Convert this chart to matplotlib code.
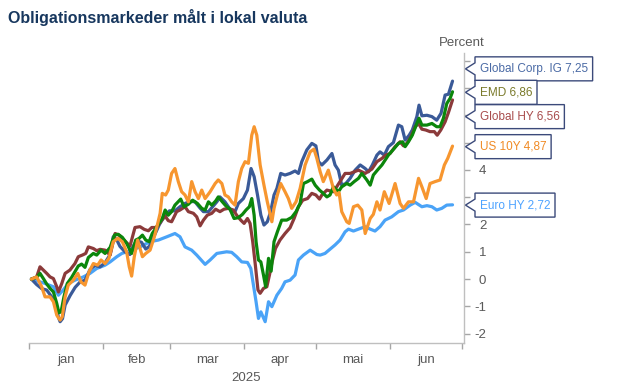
import matplotlib
matplotlib.use('Agg')
import matplotlib.pyplot as plt
import matplotlib.dates as mdates
from matplotlib.patches import Polygon
import numpy as np
from datetime import datetime

plt.rcParams['font.family'] = ['Liberation Sans', 'DejaVu Sans']
plt.rcParams['axes.unicode_minus'] = False

# ---------------- data ----------------
title = "Obligationsmarkeder målt i lokal valuta"
unit_label = "Percent"
year_label = "2025"
month_labels = ["jan", "feb", "mar", "apr", "mai", "jun"]
y_ticks = [-2, -1, 0, 1, 2, 3, 4, 5, 6, 7, 8]
y_tick_labels = ["-2", "-1", "0", "1", "2", "3", "4", "", "", "", ""]

# days after 1 Jan 2025, cumulative return in percent
ig_days = [1.0, 3.2, 5.3, 7.4, 9.5, 10.9, 12.3, 13.0, 14.0, 15.1, 17.2, 19.3, 21.4, 23.4, 25.5, 27.6, 29.7, 31.8, 33.9, 35.2, 36.6, 38.0, 40.1, 42.2, 43.5, 45.0, 47.0, 48.8, 50.3, 52.4, 54.5, 56.6, 58.7, 61.0, 63.1, 65.2, 67.3, 69.4, 71.5, 72.9, 75.0, 78.5, 79.8, 81.9, 84.7, 86.1, 87.5, 89.6, 91.3, 92.8, 94.1, 95.5, 96.9, 98.2, 99.6, 101.0, 102.4, 103.6, 105.2, 107.0, 109.1, 111.2, 112.6, 114.0, 116.1, 118.2, 119.9, 121.0, 122.4, 124.5, 126.6, 127.9, 129.3, 130.7, 132.4, 134.2, 136.3, 138.4, 140.5, 141.9, 143.5, 145.4, 146.7, 148.5, 150.2, 152.3, 154.4, 155.8, 157.2, 158.9, 160.2, 162.1, 163.0, 164.2, 166.3, 168.4, 170.4, 172.2, 173.9, 175.3, 177.0]
ig_vals = [0.0, -0.2, -0.35, -0.4, -0.65, -0.8, -1.4, -1.56, -1.45, -0.95, -0.6, -0.3, -0.1, -0.04, 0.35, 0.5, 0.45, 0.6, 0.9, 1.55, 1.45, 1.2, 1.0, 0.9, 1.2, 1.4, 1.35, 1.1, 1.2, 1.6, 2.0, 2.3, 2.5, 2.5, 2.65, 2.77, 2.85, 2.83, 2.6, 2.47, 2.47, 2.83, 3.01, 2.83, 2.47, 2.47, 2.77, 2.95, 3.26, 4.05, 3.75, 3.08, 2.34, 1.98, 2.1, 2.47, 3.08, 3.32, 3.87, 3.81, 3.87, 3.96, 3.87, 4.3, 4.73, 4.97, 4.88, 4.3, 4.18, 4.36, 4.6, 4.18, 3.99, 3.44, 3.5, 3.69, 3.99, 4.18, 4.05, 3.93, 4.18, 4.54, 4.66, 4.54, 4.85, 5.0, 5.64, 5.58, 5.09, 5.27, 5.46, 5.95, 6.37, 5.98, 6.0, 5.95, 5.82, 6.07, 6.74, 6.77, 7.25]

emd_days = [1.0, 3.2, 4.6, 6.0, 7.4, 8.8, 10.2, 11.6, 12.5, 13.4, 14.6, 16.0, 17.8, 19.2, 20.6, 22.0, 23.4, 24.8, 26.9, 28.3, 30.1, 31.8, 33.9, 35.7, 37.3, 39.0, 40.8, 42.9, 44.6, 46.0, 47.4, 48.8, 50.2, 51.5, 53.0, 54.3, 55.7, 56.9, 58.2, 59.6, 61.0, 63.4, 64.8, 66.6, 68.4, 70.4, 72.2, 73.6, 75.0, 76.4, 78.0, 79.1, 80.8, 82.2, 84.0, 85.7, 87.5, 89.2, 90.7, 92.1, 93.1, 94.1, 94.9, 95.9, 96.9, 98.0, 98.9, 100.1, 101.2, 102.4, 103.8, 105.6, 107.7, 109.8, 111.6, 113.3, 114.7, 116.4, 118.2, 119.6, 121.4, 122.6, 124.5, 125.8, 127.2, 129.3, 130.7, 132.8, 134.2, 135.9, 137.7, 139.1, 141.2, 142.6, 143.9, 145.6, 147.5, 150.2, 152.7, 154.4, 156.1, 157.2, 158.6, 160.2, 162.1, 163.0, 164.2, 166.3, 168.4, 170.4, 171.8, 173.2, 174.6, 176.0, 177.0]
emd_vals = [0.0, 0.06, 0.21, 0.02, -0.18, -0.34, -0.47, -0.89, -1.23, -1.2, -0.65, -0.16, 0.06, 0.27, 0.48, 0.55, 0.43, 0.79, 0.94, 0.88, 1.06, 0.94, 1.16, 1.61, 1.64, 1.53, 1.31, 0.94, 1.43, 1.49, 1.61, 1.43, 1.37, 1.67, 1.86, 2.04, 2.22, 2.53, 2.34, 2.47, 2.71, 2.93, 2.65, 2.74, 2.89, 2.77, 2.59, 2.53, 2.83, 2.71, 2.86, 3.01, 2.83, 2.69, 2.56, 2.22, 2.25, 2.37, 2.53, 2.65, 2.95, 2.34, 1.37, 0.7, 0.63, 0.15, -0.28, 0.76, 0.29, 1.37, 1.73, 2.16, 2.16, 2.26, 2.47, 2.77, 3.5, 3.57, 3.66, 3.44, 3.26, 3.17, 3.01, 3.08, 3.38, 3.2, 3.38, 3.5, 3.44, 3.57, 3.69, 3.87, 3.63, 3.44, 3.81, 3.99, 4.18, 4.54, 4.79, 4.97, 5.03, 4.85, 5.03, 5.27, 5.7, 5.89, 5.64, 5.64, 5.7, 5.58, 5.58, 5.89, 6.43, 6.62, 6.86]

hy_days = [1.0, 3.2, 4.6, 6.0, 7.4, 8.8, 10.2, 11.6, 12.3, 13.7, 15.1, 17.1, 19.2, 20.6, 22.3, 23.7, 24.8, 26.9, 28.3, 29.7, 31.8, 33.9, 36.0, 37.6, 39.0, 40.4, 42.2, 44.3, 46.4, 48.2, 49.9, 51.3, 53.0, 54.1, 55.5, 56.9, 58.2, 59.6, 61.7, 63.1, 65.2, 66.6, 68.7, 70.1, 71.5, 72.9, 74.5, 76.4, 78.0, 79.8, 81.5, 83.3, 85.4, 86.8, 88.5, 89.9, 91.3, 92.4, 93.5, 94.6, 95.7, 96.6, 98.0, 99.4, 100.5, 101.6, 103.0, 104.9, 107.0, 109.1, 110.8, 112.6, 114.4, 116.4, 118.2, 119.9, 121.4, 122.4, 124.5, 127.2, 128.6, 130.4, 132.1, 134.2, 137.7, 140.5, 143.3, 145.4, 147.5, 149.1, 150.9, 153.0, 155.1, 156.5, 157.9, 159.6, 161.4, 162.8, 164.2, 165.8, 167.6, 169.4, 170.6, 172.1, 173.9, 175.3, 177.0]
hy_vals = [0.0, 0.08, 0.45, 0.33, 0.21, 0.08, 0.02, -0.28, -0.47, -0.16, 0.21, 0.33, 0.57, 0.82, 0.88, 0.94, 1.18, 1.12, 1.04, 1.09, 1.06, 0.88, 1.67, 1.61, 1.49, 1.37, 1.21, 1.89, 1.92, 1.82, 1.77, 1.89, 1.89, 1.98, 2.16, 2.31, 2.14, 2.1, 2.47, 2.53, 2.65, 2.47, 2.41, 2.28, 1.95, 2.16, 2.34, 2.41, 2.56, 2.47, 2.56, 2.59, 2.53, 2.34, 2.16, 2.04, 2.22, 2.04, 1.37, 0.51, -0.4, -0.52, -0.34, -0.28, 0.15, 0.63, 1.12, 1.43, 1.67, 1.88, 2.22, 2.65, 2.89, 2.95, 3.14, 3.08, 2.93, 3.08, 3.26, 3.2, 3.38, 3.63, 3.87, 3.87, 3.99, 3.87, 4.03, 4.3, 4.42, 4.54, 4.6, 4.85, 5.03, 4.88, 4.97, 5.21, 5.58, 5.7, 5.49, 5.46, 5.4, 5.4, 5.27, 5.46, 5.76, 6.1, 6.56]

us_days = [1.0, 3.2, 5.3, 6.7, 8.8, 10.2, 11.6, 13.0, 13.9, 15.1, 16.4, 18.5, 20.4, 21.7, 23.4, 25.1, 26.9, 28.7, 30.1, 31.8, 33.4, 35.2, 37.1, 39.0, 40.8, 41.9, 42.9, 44.0, 45.4, 47.4, 48.8, 50.6, 52.4, 53.8, 54.8, 55.7, 57.1, 58.2, 59.6, 61.0, 62.4, 63.8, 65.2, 66.6, 68.0, 69.4, 70.8, 72.2, 73.6, 75.7, 77.8, 79.1, 80.6, 81.9, 83.3, 84.7, 86.1, 87.5, 88.9, 90.3, 91.7, 93.1, 94.1, 95.2, 96.6, 98.2, 99.6, 101.5, 102.4, 103.8, 105.2, 107.0, 108.4, 109.8, 111.6, 113.3, 115.4, 117.5, 119.1, 120.3, 121.7, 123.0, 125.1, 127.2, 128.6, 129.6, 130.7, 132.8, 133.8, 135.6, 137.4, 139.1, 140.5, 142.6, 143.9, 145.4, 146.7, 148.5, 150.5, 153.0, 155.1, 156.5, 158.6, 160.7, 162.8, 164.2, 166.0, 167.6, 169.7, 171.8, 173.6, 175.0, 177.0]
us_vals = [0.0, 0.08, -0.28, -0.65, -0.65, -0.83, -1.32, -1.5, -1.38, -0.65, -0.22, -0.04, 0.21, -0.1, -0.22, 0.27, 0.57, 0.51, 0.7, 0.57, 0.76, 1.37, 1.49, 1.37, 1.0, 0.45, 0.11, 0.82, 1.43, 0.82, 0.94, 1.06, 1.55, 2.04, 2.41, 3.14, 3.08, 3.26, 3.87, 4.05, 3.57, 3.2, 3.08, 2.83, 3.57, 3.2, 2.95, 3.26, 2.95, 3.2, 3.5, 3.63, 3.5, 3.08, 3.01, 2.83, 2.71, 3.57, 4.05, 4.3, 4.24, 5.27, 5.58, 5.27, 4.18, 3.44, 2.83, 2.1, 2.59, 3.08, 3.5, 3.2, 2.95, 2.59, 2.83, 3.32, 4.18, 4.66, 4.76, 4.42, 3.93, 3.57, 3.99, 3.32, 3.08, 3.17, 2.47, 2.1, 2.04, 2.65, 2.71, 2.53, 1.67, 2.22, 2.37, 2.83, 2.53, 3.2, 2.77, 3.5, 2.77, 2.59, 2.83, 2.83, 3.69, 3.38, 2.95, 3.5, 3.57, 3.63, 4.18, 4.42, 4.87]

eu_days = [1.0, 6.7, 10.2, 12.3, 14.3, 16.4, 19.2, 22.7, 25.5, 28.3, 31.8, 33.9, 36.7, 38.8, 42.9, 46.4, 50.6, 54.1, 57.6, 61.0, 63.1, 65.2, 68.0, 70.1, 73.6, 75.7, 78.5, 82.6, 84.7, 86.8, 88.9, 91.3, 92.7, 93.8, 94.9, 95.9, 96.9, 98.7, 100.1, 101.5, 103.6, 105.6, 107.0, 109.1, 111.2, 112.6, 114.7, 117.5, 120.3, 121.7, 123.7, 127.9, 130.0, 132.1, 133.5, 135.6, 137.7, 140.5, 142.6, 144.6, 146.7, 148.8, 151.6, 154.4, 156.5, 159.3, 161.4, 164.2, 166.3, 168.4, 170.4, 172.5, 174.6, 177.0]
eu_vals = [0.0, -0.16, -0.28, -0.59, -0.4, -0.16, -0.04, 0.08, 0.21, 0.39, 0.51, 0.63, 0.82, 0.94, 1.06, 1.18, 1.37, 1.43, 1.55, 1.67, 1.55, 1.18, 1.06, 0.88, 0.54, 0.7, 0.94, 1.0, 0.98, 0.82, 0.63, 0.61, 0.39, -0.22, -0.83, -1.44, -1.2, -1.56, -0.83, -1.01, -0.59, -0.34, -0.1, -0.04, 0.15, 0.7, 0.88, 1.06, 0.9, 0.88, 0.94, 1.25, 1.43, 1.73, 1.83, 1.76, 1.83, 1.92, 1.83, 1.76, 1.92, 2.16, 2.28, 2.47, 2.53, 2.71, 2.81, 2.65, 2.69, 2.65, 2.53, 2.59, 2.71, 2.72]

# ---------------- style / layout ----------------
W, H = 626, 392
fig = plt.figure(figsize=(W / 100, H / 100), dpi=100)
ax = fig.add_axes([29 / W, 1 - 343 / H, 435 / W, 290 / H])

start = mdates.date2num(datetime(2025, 1, 1))

series = [
    # name, days, vals, line colour, label colour, zorder, callout y
    ("Euro HY", eu_days, eu_vals, '#4AA3F7', '#4DA3FF', 2, 2.71),
    ("Global Corp. IG", ig_days, ig_vals, '#3A5A98', '#4A6AA5', 3, 7.7),
    ("Global HY", hy_days, hy_vals, '#8B3A3A', '#A84C4C', 4, 5.95),
    ("EMD", emd_days, emd_vals, '#0B860B', '#7A7A2A', 5, 6.84),
    ("US 10Y", us_days, us_vals, '#F7962F', '#F08A24', 6, 4.85),
]

for name, d, v, col, lcol, z, ypos in series:
    ax.plot(start + np.asarray(d), v, color=col, lw=2.3, zorder=z,
            solid_joinstyle='round', solid_capstyle='round')

ax.set_xlim(start, start + 181.8)
ax.set_ylim(-2.34, 8.28)

for s in ['top', 'left']:
    ax.spines[s].set_visible(False)
for s in ['bottom', 'right']:
    ax.spines[s].set_color('#BFBFBF')
    ax.spines[s].set_linewidth(1.0)

month_starts = [mdates.date2num(datetime(2025, m, 1)) for m in range(1, 8)]
mids = [(month_starts[i] + month_starts[i + 1]) / 2 for i in range(6)]
ax.set_xticks(month_starts)
ax.set_xticklabels([''] * len(month_starts))
ax.set_xticks(mids, minor=True)
ax.set_xticklabels(month_labels, minor=True)
ax.tick_params(axis='x', which='major', length=4, color='#A6A6A6', width=1)
ax.tick_params(axis='x', which='minor', length=0, pad=8, labelsize=9.5, labelcolor='#595959')
ax.set_xlabel(year_label, fontsize=9.5, color='#595959', labelpad=4)

ax.yaxis.tick_right()
ax.set_yticks(y_ticks)
ax.set_yticklabels(y_tick_labels)
ax.tick_params(axis='y', length=4, color='#A6A6A6', width=1, pad=12,
               labelsize=9.5, labelcolor='#595959')
for lab in ax.get_yticklabels():
    lab.set_horizontalalignment('right')

fig.text(8 / W, 1 - 18 / H, title, ha='left', va='center', fontsize=11.5,
         fontweight='bold', color='#17375E')
fig.text(462 / W, 1 - 43 / H, unit_label, ha='center', va='center',
         fontsize=9.5, color='#595959')

# ---------------- callouts ----------------
renderer = fig.canvas.get_renderer()
axis_x = ax.transAxes.transform((1.0, 0.0))[0]
box_left = axis_x + 11
tip_x = axis_x + 1.5
half_h = 12
wedge = 6
for name, d, v, col, lcol, z, ypos in series:
    yc = ax.transData.transform((start, ypos))[1]
    value_txt = f"{v[-1]:.2f}".replace('.', ',')
    txt = f"{name} {value_txt}"
    t = fig.text((box_left + 4.5) / W, yc / H, txt, ha='left', va='center',
                 fontsize=8.5, color=lcol, zorder=6)
    bb = t.get_window_extent(renderer=renderer)
    right = bb.x1 + 5
    pts = [(box_left, yc + half_h), (right, yc + half_h), (right, yc - half_h),
           (box_left, yc - half_h), (box_left, yc - wedge), (tip_x, yc),
           (box_left, yc + wedge)]
    pts = [(x / W, y / H) for x, y in pts]
    poly = Polygon(pts, closed=True, facecolor='white', edgecolor='#3B4A7A',
                   lw=1.0, transform=fig.transFigure, zorder=5)
    fig.add_artist(poly)

fig.savefig('out.png', dpi=100)
